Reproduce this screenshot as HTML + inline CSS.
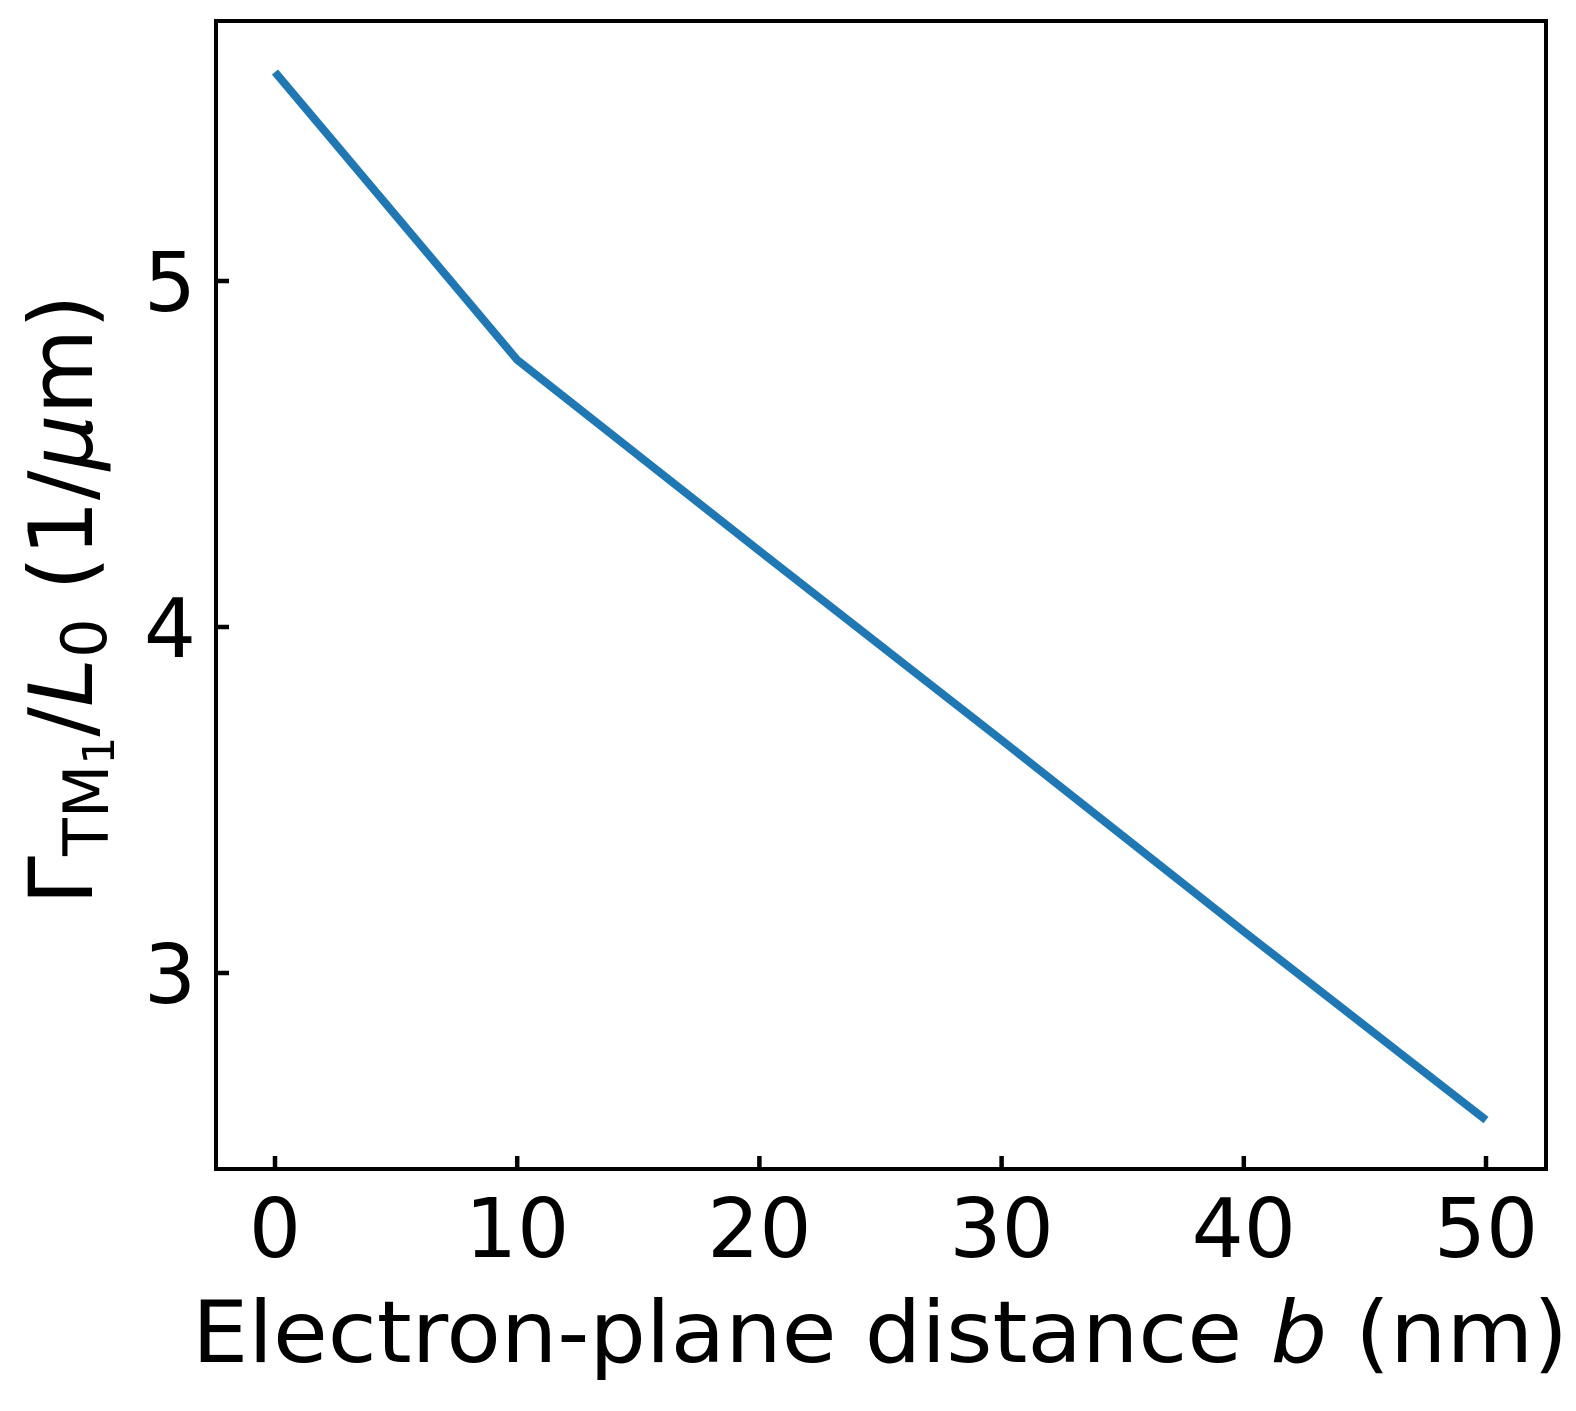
<!DOCTYPE html>
<html><head><meta charset="utf-8"><style>
html,body{margin:0;padding:0;background:#fff}
svg{display:block}
text{font-family:"DejaVu Sans","Liberation Sans",sans-serif;fill:#000}
</style></head><body>
<svg id="chart" width="1576" height="1411" viewBox="0 0 1576 1411" xmlns="http://www.w3.org/2000/svg">
<g id="plot"></g>
<rect x="216" y="21" width="1330" height="1148" fill="none" stroke="#000" stroke-width="4"/>
<text x="192" y="1362" font-size="86" textLength="1376" lengthAdjust="spacingAndGlyphs">Electron-plane distance <tspan font-style="italic">b</tspan> (nm)</text>
<text transform="translate(92,905) rotate(-90)" font-size="88">Γ<tspan font-size="62" dy="16">TM</tspan><tspan font-size="44" dy="6">1</tspan><tspan dy="-22">/</tspan><tspan font-style="italic">L</tspan><tspan font-size="62" dy="14">0</tspan><tspan dy="-14"> (1/</tspan><tspan font-style="italic">μ</tspan><tspan>m)</tspan></text>
</svg>
<script>
const xValues = [0, 10, 20, 30, 40, 50];
const yValues = [5.604, 4.772, 4.22, 3.673, 3.12, 2.575];
const xTicks = [0, 10, 20, 30, 40, 50];
const yTicks = [3, 4, 5];
const NS = "http://www.w3.org/2000/svg";
function sx(v){ return 275 + v * 24.22; }
function sy(v){ return 281 - (v - 5) * 346; }
const g = document.getElementById('plot');
const pl = document.createElementNS(NS, 'polyline');


pl.setAttribute('points', xValues.map((x,i)=>sx(x)+','+sy(yValues[i])).join(' '));
pl.setAttribute('fill', 'none');
pl.setAttribute('stroke', '#1f77b4');
pl.setAttribute('stroke-width', '8');
g.appendChild(pl);
xTicks.forEach(t=>{
  const l = document.createElementNS(NS,'line');
  
  
  l.setAttribute('x1', sx(t)); l.setAttribute('x2', sx(t));
  l.setAttribute('y1', 1169); l.setAttribute('y2', 1156);
  l.setAttribute('stroke', '#000'); l.setAttribute('stroke-width', '4.5');
  g.appendChild(l);
  const tx = document.createElementNS(NS,'text');
  
  
  tx.setAttribute('x', sx(t)); tx.setAttribute('y', 1257);
  tx.setAttribute('font-size', '82'); tx.setAttribute('text-anchor', 'middle');
  tx.textContent = t;
  g.appendChild(tx);
});
yTicks.forEach(t=>{
  const l = document.createElementNS(NS,'line');
  
  
  l.setAttribute('x1', 216); l.setAttribute('x2', 229);
  l.setAttribute('y1', sy(t)); l.setAttribute('y2', sy(t));
  l.setAttribute('stroke', '#000'); l.setAttribute('stroke-width', '4.5');
  g.appendChild(l);
  const tx = document.createElementNS(NS,'text');
  
  
  tx.setAttribute('x', 196); tx.setAttribute('y', sy(t) + 30);
  tx.setAttribute('font-size', '82'); tx.setAttribute('text-anchor', 'end');
  tx.textContent = t;
  g.appendChild(tx);
});
</script>
</body></html>
